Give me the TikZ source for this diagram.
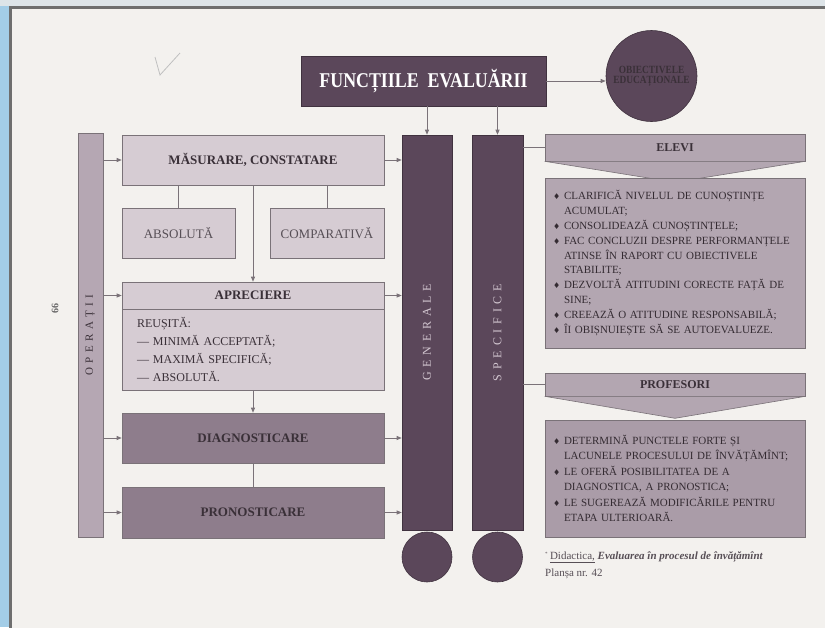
\documentclass[tikz,border=0pt]{standalone}
\usepackage{fontspec}
\setmainfont{Liberation Serif}
\newfontfamily\titlefont[FakeStretch=0.85]{Liberation Serif}
\newfontfamily\spacedfont[LetterSpace=40]{Liberation Serif}
\newfontfamily\symfont{DejaVu Sans}
\usetikzlibrary{arrows.meta,calc}

\definecolor{outerblue}{HTML}{A3CDE7}
\definecolor{outertop}{HTML}{DDE4E8}
\definecolor{pagebg}{HTML}{F3F1EE}
\definecolor{framegray}{HTML}{6E6E6E}
\definecolor{darkpur}{HTML}{5B475A}
\definecolor{midpur}{HTML}{8E7D8C}
\definecolor{lightpur}{HTML}{D6CCD3}
\definecolor{operpur}{HTML}{B5A7B3}
\definecolor{listpur}{HTML}{B3A6B1}
\definecolor{linegray}{HTML}{7A7278}
\definecolor{inkdark}{HTML}{3A3038}
\definecolor{inklight}{HTML}{D2C6D0}

\newcommand{\fsz}[1]{\fontsize{#1}{#1}\selectfont}
\newcommand{\itm}{\makebox[11pt][l]{{\symfont\fontsize{8}{8}\selectfont\char"2666}}}
\newcommand{\cnt}{\hspace*{11pt}}

\begin{document}
\begin{tikzpicture}[x=1pt,y=-1pt,
    box/.style={draw=linegray, line width=0.6pt, inner sep=0pt, align=center},
    darkbox/.style={box, fill=darkpur, draw=darkpur!70!black},
    midbox/.style={box, fill=midpur, text=inkdark, font=\bfseries\fsz{13}},
    lightbox/.style={box, fill=lightpur, text=inkdark, font=\bfseries\fsz{13}},
    subbox/.style={box, fill=lightpur, text=inkdark!85, font=\fsz{13}},
    headbox/.style={box, fill=listpur, text=inkdark, font=\bfseries\fsz{12}},
    listbox/.style={box, fill=listpur, text=inkdark!90!black, align=left, text width=244pt,
                    inner xsep=8pt, font=\fontsize{11}{14.8}\selectfont},
    arr/.style={-{Triangle[length=5pt,width=4pt]}, draw=linegray, line width=0.7pt},
    link/.style={draw=linegray, line width=0.7pt},
]
% page
\useasboundingbox (0,0) rectangle (825,627);
\fill[outerblue] (0,0) rectangle (825,627);
\fill[outertop] (0,0) rectangle (825,6);
\filldraw[fill=pagebg, draw=framegray, line width=3pt] (10,7.5) rectangle (835,640);
\draw[black!25, line width=0.8pt] (155,57) -- (160,75) -- (180,53);
\node[rotate=90, text=black!60, font=\bfseries\fsz{10}] (page) at (55,308) {66};

% top
\node[darkbox, minimum width=245pt, minimum height=50pt, text=white,
      font=\titlefont\bfseries\fsz{21}] (title) at (423.5,81) {FUNCȚIILE\hspace{9pt}EVALUĂRII};
\node[darkbox, circle, minimum size=91pt, text=inkdark, font=\titlefont\bfseries\fsz{11}] (obj) at (651.5,76)
      {OBIECTIVELE\\[-1pt]EDUCAȚIONALE};

% columns
\node[darkbox, minimum width=50pt, minimum height=395pt] (gen) at (427,332.5) {};
\node[darkbox, minimum width=51pt, minimum height=395pt] (spec) at (497.5,332.5) {};
\node[rotate=90, text=inklight, font=\spacedfont\fsz{12}] (gentext) at (gen.center) {GENERALE};
\node[rotate=90, text=inklight, font=\spacedfont\fsz{12}] (spectext) at (spec.center) {SPECIFICE};
\node[darkbox, circle, minimum size=50pt] (genend) at (427,557) {};
\node[darkbox, circle, minimum size=50pt] (specend) at (497.5,557) {};

% operations
\node[box, fill=operpur, minimum width=25pt, minimum height=404pt] (oper) at (90.5,335) {};
\node[rotate=90, text=inkdark, font=\spacedfont\fsz{11}] (opertext) at (90.5,335) {OPERAȚII};

\node[lightbox, minimum width=262pt, minimum height=50pt] (mas) at (253,160) {MĂSURARE, CONSTATARE};
\node[subbox, minimum width=113pt, minimum height=50pt] (abs) at (178.5,233) {ABSOLUTĂ};
\node[subbox, minimum width=114pt, minimum height=50pt] (comp) at (327,233) {COMPARATIVĂ};
\node[lightbox, minimum width=262pt, minimum height=27pt] (aprhead) at (253,295.5) {APRECIERE};
\node[box, fill=lightpur, text=inkdark, minimum height=81pt, text width=232pt, inner xsep=15pt,
      align=left, font=\fontsize{12}{18}\selectfont] (aprbody) at (253,349.5)
      {REUȘITĂ:\\— MINIMĂ ACCEPTATĂ;\\— MAXIMĂ SPECIFICĂ;\\— ABSOLUTĂ.};
\node[midbox, minimum width=262pt, minimum height=50pt] (diag) at (253,438) {DIAGNOSTICARE};
\node[midbox, minimum width=262pt, minimum height=51pt] (pron) at (253,512.5) {PRONOSTICARE};

% right side
\node[headbox, minimum width=260pt, minimum height=27pt] (elevi) at (675,147.5) {ELEVI};
\filldraw[fill=listpur, draw=linegray, line width=0.6pt]
    (elevi.south west) -- ($(elevi.south)+(0,21)$) -- (elevi.south east) -- cycle;
\node[listbox, minimum height=170pt] (elevilist) at (675,263) {%
    \itm CLARIFICĂ NIVELUL DE CUNOȘTINȚE\\ \cnt ACUMULAT;\\
    \itm CONSOLIDEAZĂ CUNOȘTINȚELE;\\
    \itm FAC CONCLUZII DESPRE PERFORMANȚELE\\ \cnt ATINSE ÎN RAPORT CU OBIECTIVELE\\ \cnt STABILITE;\\
    \itm DEZVOLTĂ ATITUDINI CORECTE FAȚĂ DE\\ \cnt SINE;\\
    \itm CREEAZĂ O ATITUDINE RESPONSABILĂ;\\
    \itm ÎI OBIȘNUIEȘTE SĂ SE AUTOEVALUEZE.};
\node[headbox, minimum width=260pt, minimum height=23pt] (prof) at (675,384.5) {PROFESORI};
\filldraw[fill=listpur, draw=linegray, line width=0.6pt]
    (prof.south west) -- ($(prof.south)+(0,22)$) -- (prof.south east) -- cycle;
\node[listbox, fill=listpur!90!darkpur, minimum height=117pt, font=\fontsize{11}{15.5}\selectfont]
    (proflist) at (675,478.5) {%
    \itm DETERMINĂ PUNCTELE FORTE ȘI\\ \cnt LACUNELE PROCESULUI DE ÎNVĂȚĂMÎNT;\\
    \itm LE OFERĂ POSIBILITATEA DE A\\ \cnt DIAGNOSTICA, A PRONOSTICA;\\
    \itm LE SUGEREAZĂ MODIFICĂRILE PENTRU\\ \cnt ETAPA ULTERIOARĂ.};

% source
\node[anchor=west, inner sep=0pt, text=inkdark!85, font=\fsz{11}] (src) at (545,557)
    {\textsuperscript{\tiny *}\,\underline{Didactica,} \textbf{\textit{Evaluarea în procesul de învățămînt}}};
\node[anchor=west, inner sep=0pt, text=inkdark!85, font=\fsz{11}] (plansa) at (545,574) {Planșa nr. 42};

% connectors
\draw[arr] (title.east) -- (title.east -| obj.west);
\draw[arr] (title.south -| gen.north) -- (gen.north);
\draw[arr] (title.south -| spec.north) -- (spec.north);
\foreach \b in {mas,aprhead,diag,pron}{
  \draw[arr] (\b.west -| oper.east) -- (\b.west);
  \draw[arr] (\b.east) -- (\b.east -| gen.west);
}
\draw[link] (abs.north) -- (abs.north |- mas.south);
\draw[link] (comp.north) -- (comp.north |- mas.south);
\draw[arr] (mas.south) -- (aprhead.north);
\draw[arr] (aprbody.south) -- (diag.north);
\draw[link] (diag.south) -- (pron.north);
\draw[link] (elevi.west -| spec.east) -- (elevi.west);
\draw[link] (prof.west -| spec.east) -- (prof.west);
\end{tikzpicture}
\end{document}
